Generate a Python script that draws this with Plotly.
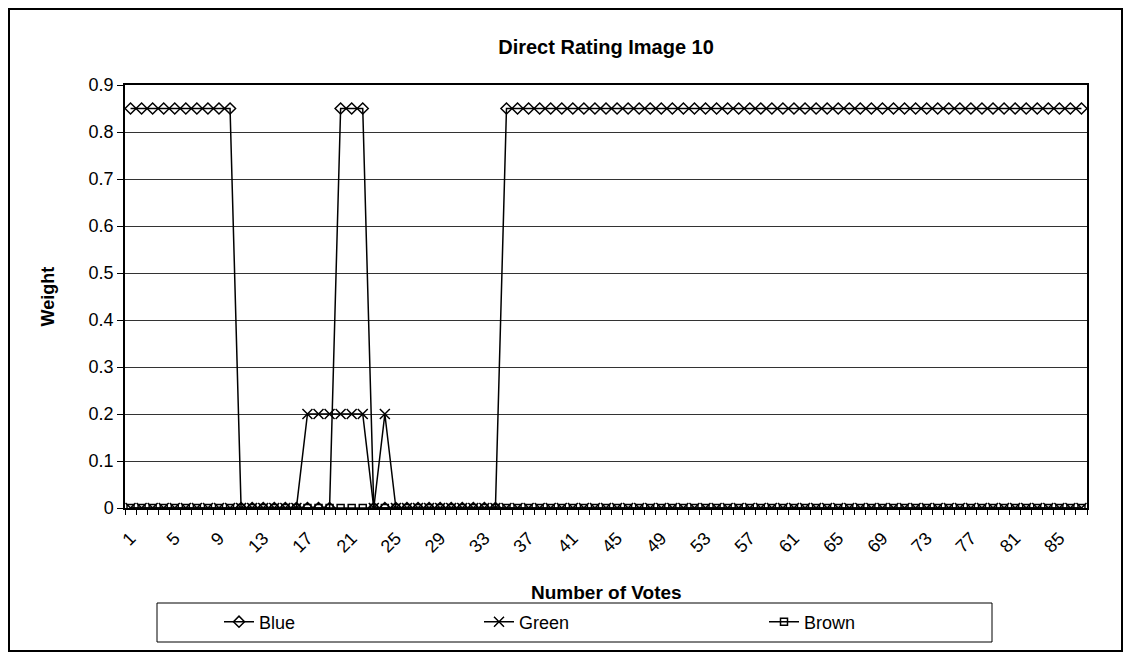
import plotly.graph_objects as go

# Number of votes (category axis 1..87)
votes = list(range(1, 88))

blue_weight = [
    0.85, 0.85, 0.85, 0.85, 0.85, 0.85, 0.85, 0.85, 0.85, 0.85,
    0, 0, 0, 0, 0, 0, 0, 0, 0, 0.85,
    0.85, 0.85, 0, 0, 0, 0, 0, 0, 0, 0,
    0, 0, 0, 0, 0.85, 0.85, 0.85, 0.85, 0.85, 0.85,
    0.85, 0.85, 0.85, 0.85, 0.85, 0.85, 0.85, 0.85, 0.85, 0.85,
    0.85, 0.85, 0.85, 0.85, 0.85, 0.85, 0.85, 0.85, 0.85, 0.85,
    0.85, 0.85, 0.85, 0.85, 0.85, 0.85, 0.85, 0.85, 0.85, 0.85,
    0.85, 0.85, 0.85, 0.85, 0.85, 0.85, 0.85, 0.85, 0.85, 0.85,
    0.85, 0.85, 0.85, 0.85, 0.85, 0.85, 0.85,
]
green_weight = [
    0, 0, 0, 0, 0, 0, 0, 0, 0, 0,
    0, 0, 0, 0, 0, 0, 0.2, 0.2, 0.2, 0.2,
    0.2, 0.2, 0, 0.2, 0, 0, 0, 0, 0, 0,
    0, 0, 0, 0, 0, 0, 0, 0, 0, 0,
    0, 0, 0, 0, 0, 0, 0, 0, 0, 0,
    0, 0, 0, 0, 0, 0, 0, 0, 0, 0,
    0, 0, 0, 0, 0, 0, 0, 0, 0, 0,
    0, 0, 0, 0, 0, 0, 0, 0, 0, 0,
    0, 0, 0, 0, 0, 0, 0,
]
brown_weight = [
    0, 0, 0, 0, 0, 0, 0, 0, 0, 0,
    0, 0, 0, 0, 0, 0, 0, 0, 0, 0,
    0, 0, 0, 0, 0, 0, 0, 0, 0, 0,
    0, 0, 0, 0, 0, 0, 0, 0, 0, 0,
    0, 0, 0, 0, 0, 0, 0, 0, 0, 0,
    0, 0, 0, 0, 0, 0, 0, 0, 0, 0,
    0, 0, 0, 0, 0, 0, 0, 0, 0, 0,
    0, 0, 0, 0, 0, 0, 0, 0, 0, 0,
    0, 0, 0, 0, 0, 0, 0,
]
x_tick_labels = [1, 5, 9, 13, 17, 21, 25, 29, 33, 37, 41, 45,
                 49, 53, 57, 61, 65, 69, 73, 77, 81, 85]
y_ticks = [0, 0.1, 0.2, 0.3, 0.4, 0.5, 0.6, 0.7, 0.8, 0.9]

FONT = "Arial, Liberation Sans, sans-serif"
# page body has an 8px margin, so the figure sits at (8, 8)
OFF = 8
W, H = 1115, 644
L, R, T, B = 117, 36, 77, 144
PW, PH = W - L - R, H - T - B
PLOT_LEFT, PLOT_BOTTOM = OFF + L, OFF + T + PH


def px_x(px):
    return (px - PLOT_LEFT) / PW


def px_y(py):
    return (PLOT_BOTTOM - py) / PH


series = [
    ("Blue", blue_weight, "diamond-open", 8.5, "legend"),
    ("Green", green_weight, "x-thin-open", 10, "legend2"),
    ("Brown", brown_weight, "square-open", 7, "legend3"),
]

fig = go.Figure()
for name, values, symbol, size, leg in series:
    fig.add_trace(
        go.Scatter(
            x=votes,
            y=values,
            name=name,
            mode="lines+markers",
            line={"color": "black", "width": 1.5},
            marker={
                "symbol": symbol,
                "size": size,
                "color": "black",
                "line": {"color": "black", "width": 1.5},
            },
            legend=leg,
            showlegend=True,
        )
    )

legend_style = dict(
    orientation="h",
    xanchor="left",
    yanchor="middle",
    y=px_y(622),
    bgcolor="rgba(0,0,0,0)",
    font={"family": FONT, "size": 18, "color": "black"},
)

fig.update_layout(
    width=W,
    height=H,
    margin={"l": L, "r": R, "t": T, "b": B},
    paper_bgcolor="white",
    plot_bgcolor="white",
    showlegend=True,
    font={"family": FONT, "size": 18, "color": "black"},
    title={
        "text": "<b>Direct Rating Image 10</b>",
        "x": 0.5,
        "xref": "paper",
        "xanchor": "center",
        "y": 1 - (47 - OFF) / H,
        "yref": "container",
        "yanchor": "middle",
        "font": {"family": FONT, "size": 20, "color": "black"},
    },
    legend={**legend_style, "x": px_x(219)},
    legend2={**legend_style, "x": px_x(479)},
    legend3={**legend_style, "x": px_x(764)},
    shapes=[
        dict(type="rect", xref="paper", yref="paper",
             x0=px_x(9), x1=px_x(1122), y0=px_y(651), y1=px_y(9),
             line={"color": "black", "width": 2}, layer="below"),
        dict(type="rect", xref="paper", yref="paper",
             x0=px_x(157), x1=px_x(992), y0=px_y(642), y1=px_y(603),
             line={"color": "black", "width": 1}),
    ],
    annotations=[
        dict(text="<b>Weight</b>", xref="paper", yref="paper",
             x=px_x(47), y=0.5, textangle=-90, showarrow=False,
             xanchor="center", yanchor="middle",
             font={"family": FONT, "size": 18}),
        dict(text="<b>Number of Votes</b>", xref="paper", yref="paper",
             x=0.5, y=px_y(592), showarrow=False,
             xanchor="center", yanchor="middle",
             font={"family": FONT, "size": 19}),
    ],
)

fig.update_xaxes(
    range=[0.5, len(votes) + 0.5],
    tickmode="array",
    tickvals=x_tick_labels,
    ticktext=[str(v) for v in x_tick_labels],
    tickangle=-45,
    ticks="",
    ticklabelstandoff=11,
    showgrid=False,
    zeroline=False,
    showline=True,
    linecolor="black",
    linewidth=1.5,
    mirror=True,
    minor={"ticks": "outside", "ticklen": 5, "tick0": 0.5, "dtick": 1,
           "tickcolor": "black", "showgrid": False},
    tickfont={"family": FONT, "size": 18},
)
fig.update_yaxes(
    range=[0, 0.9],
    tickmode="array",
    tickvals=y_ticks,
    ticktext=["0" if v == 0 else f"{v:.1f}" for v in y_ticks],
    ticks="outside",
    ticklen=6,
    tickcolor="black",
    showgrid=True,
    gridcolor="#333333",
    gridwidth=1,
    zeroline=False,
    showline=True,
    linecolor="black",
    linewidth=1.5,
    mirror=True,
    tickfont={"family": FONT, "size": 18},
)

fig.write_html("out.html")
